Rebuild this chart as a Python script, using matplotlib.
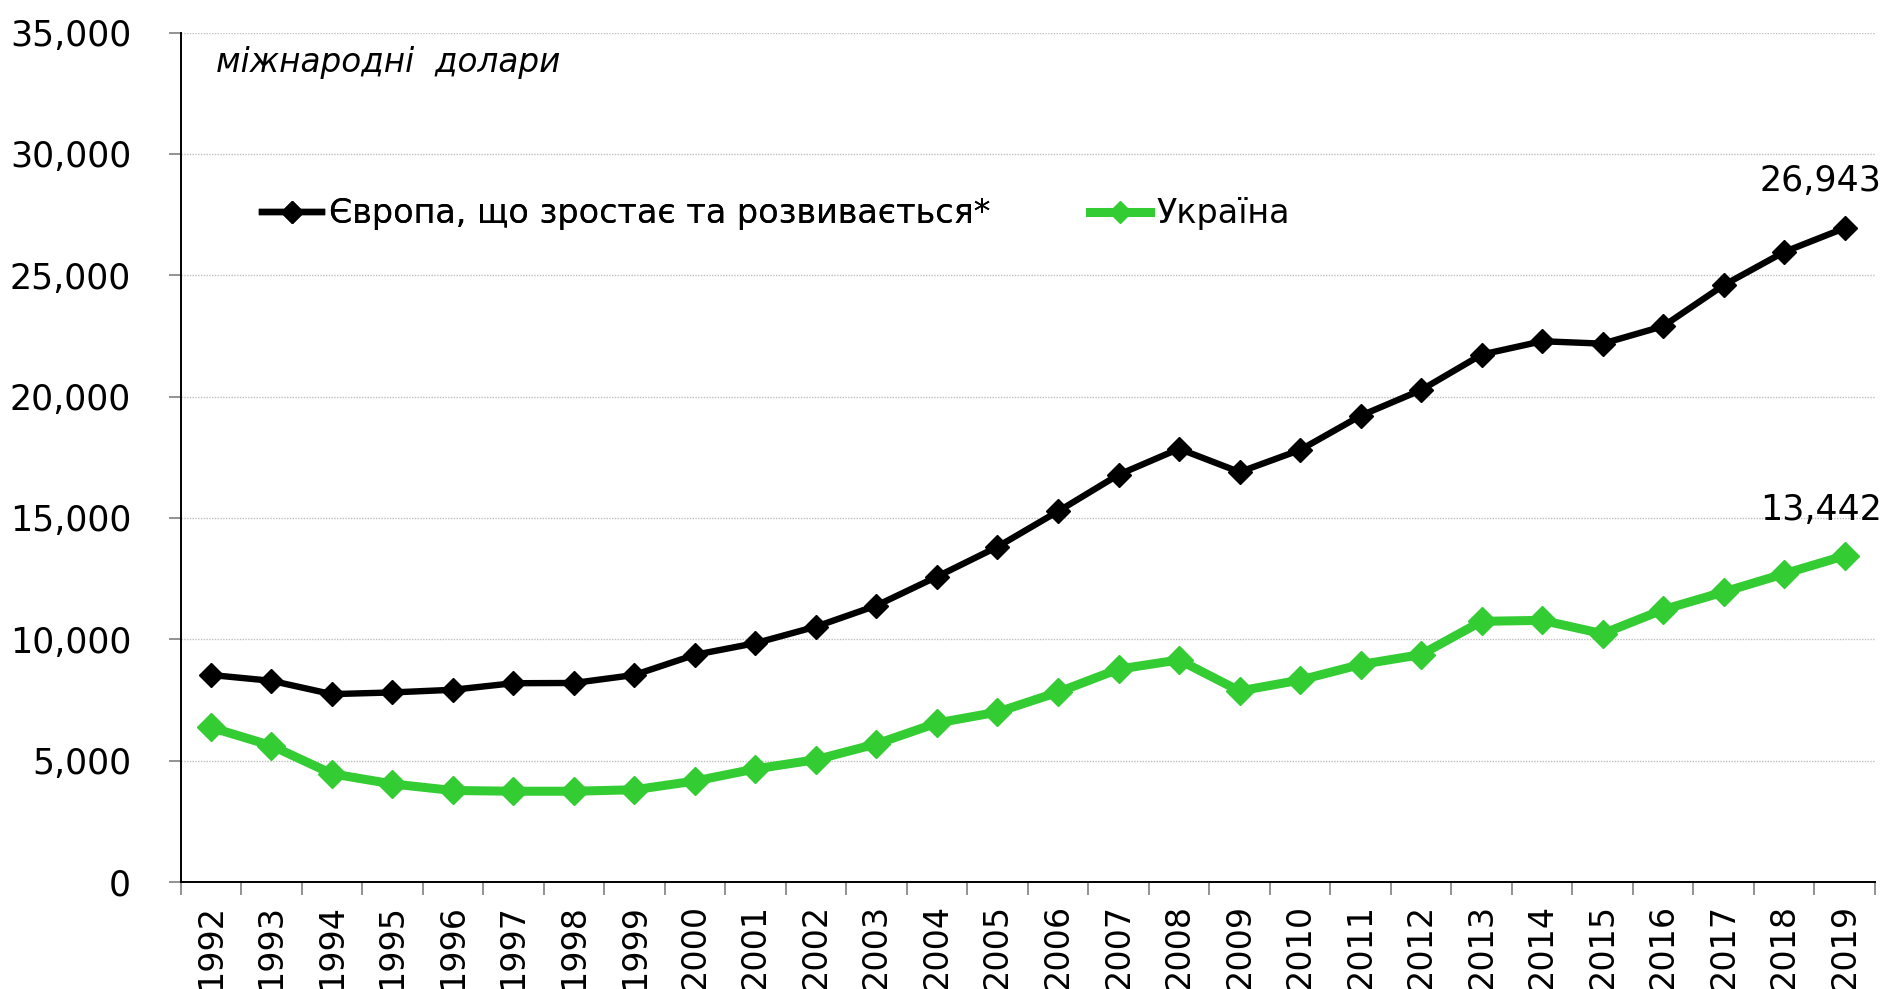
import matplotlib
matplotlib.use("Agg")
import matplotlib.pyplot as plt
from matplotlib.ticker import FixedLocator, NullFormatter, FuncFormatter
from matplotlib.lines import Line2D

plt.rcParams['font.family'] = ['DejaVu Sans']

years = [str(y) for y in range(1992, 2020)]
europe = [8530, 8290, 7740, 7810, 7920, 8190, 8200, 8530, 9360, 9840,
          10520, 11390, 12580, 13810, 15270, 16780, 17850, 16890, 17800, 19210,
          20270, 21730, 22280, 22180, 22900, 24590, 25960, 26943]
ukraine = [6370, 5620, 4460, 4040, 3770, 3740, 3740, 3800, 4160, 4660,
           5040, 5690, 6550, 7000, 7820, 8770, 9150, 7870, 8320, 8960,
           9370, 10740, 10780, 10230, 11220, 11950, 12700, 13442]
name_europe = "Європа, що зростає та розвивається*"
name_ukraine = "Україна"
unit_label = "міжнародні  долари"
yticks = [0, 5000, 10000, 15000, 20000, 25000, 30000, 35000]

BLACK = "#000000"
GREEN = "#33CC33"

fig = plt.figure(figsize=(18.87, 9.89), dpi=100)
ax = fig.add_axes([180.5 / 1887, 1 - 882 / 989, (1875 - 180.5) / 1887, (882 - 32.5) / 989])

x = list(range(len(years)))
ax.plot(x, europe, color=BLACK, lw=4.6, marker='D', ms=12, mew=1,
        mec=BLACK, mfc=BLACK, zorder=4, solid_joinstyle='miter')
ax.plot(x, ukraine, color=GREEN, lw=6.5, marker='D', ms=14, mew=1,
        mec=GREEN, mfc=GREEN, zorder=3, solid_joinstyle='miter')

ax.set_xlim(-0.5, len(years) - 0.5)
ax.set_ylim(0, 35000)

# y axis
ax.yaxis.set_major_locator(FixedLocator(yticks))
ax.yaxis.set_major_formatter(FuncFormatter(lambda v, p: f"{int(v):,}"))
ax.tick_params(axis='y', which='major', length=8.5, width=1.2, color='#7F7F7F',
               pad=27, labelsize=25, direction='out')
ax.grid(axis='y', which='major', linestyle=(0, (1, 1)), color='#BFBFBF', lw=1.0, zorder=0)

# x axis: ticks between categories, labels at centers
ax.xaxis.set_major_locator(FixedLocator([i - 0.5 for i in range(len(years) + 1)]))
ax.xaxis.set_major_formatter(NullFormatter())
ax.xaxis.set_minor_locator(FixedLocator(x))
ax.set_xticks(x, years, minor=True)
ax.tick_params(axis='x', which='major', length=9.5, width=1.2, color='#7F7F7F', direction='out')
ax.tick_params(axis='x', which='minor', length=0, pad=16, labelsize=24, labelrotation=90)

for s in ['top', 'right']:
    ax.spines[s].set_visible(False)
for s in ['left', 'bottom']:
    ax.spines[s].set_color(BLACK)
    ax.spines[s].set_linewidth(1.4)

# unit label
ax.text((216 - 180.5) / (1875 - 180.5), (882 - 72) / (882 - 32.5), unit_label,
        transform=ax.transAxes, fontsize=23.5, style='italic', ha='left', va='baseline')

# data labels at the end
ax.annotate(f"{europe[-1]:,}", xy=(x[-1], europe[-1]), xytext=(37, 37),
            textcoords='offset pixels', ha='right', va='baseline', fontsize=25)
ax.annotate(f"{ukraine[-1]:,}", xy=(x[-1], ukraine[-1]), xytext=(37, 36),
            textcoords='offset pixels', ha='right', va='baseline', fontsize=25)

# legends
h1 = Line2D([], [], color=BLACK, lw=4.6, marker='D', ms=11, mfc=BLACK, mec=BLACK)
h2 = Line2D([], [], color=GREEN, lw=6.5, marker='D', ms=11, mfc=GREEN, mec=GREEN)
leg1 = fig.legend([h1], [name_europe], loc='center left',
                  bbox_to_anchor=(262 / 1887, 1 - 214 / 989), frameon=False,
                  fontsize=24, handlelength=1.8, handletextpad=0.2, borderpad=0,
                  borderaxespad=0)
leg2 = fig.legend([h2], [name_ukraine], loc='center left',
                  bbox_to_anchor=(1090 / 1887, 1 - 214 / 989), frameon=False,
                  fontsize=24, handlelength=1.8, handletextpad=0.2, borderpad=0,
                  borderaxespad=0)
fig.add_artist(leg1)

fig.savefig("out.png", dpi=100)
